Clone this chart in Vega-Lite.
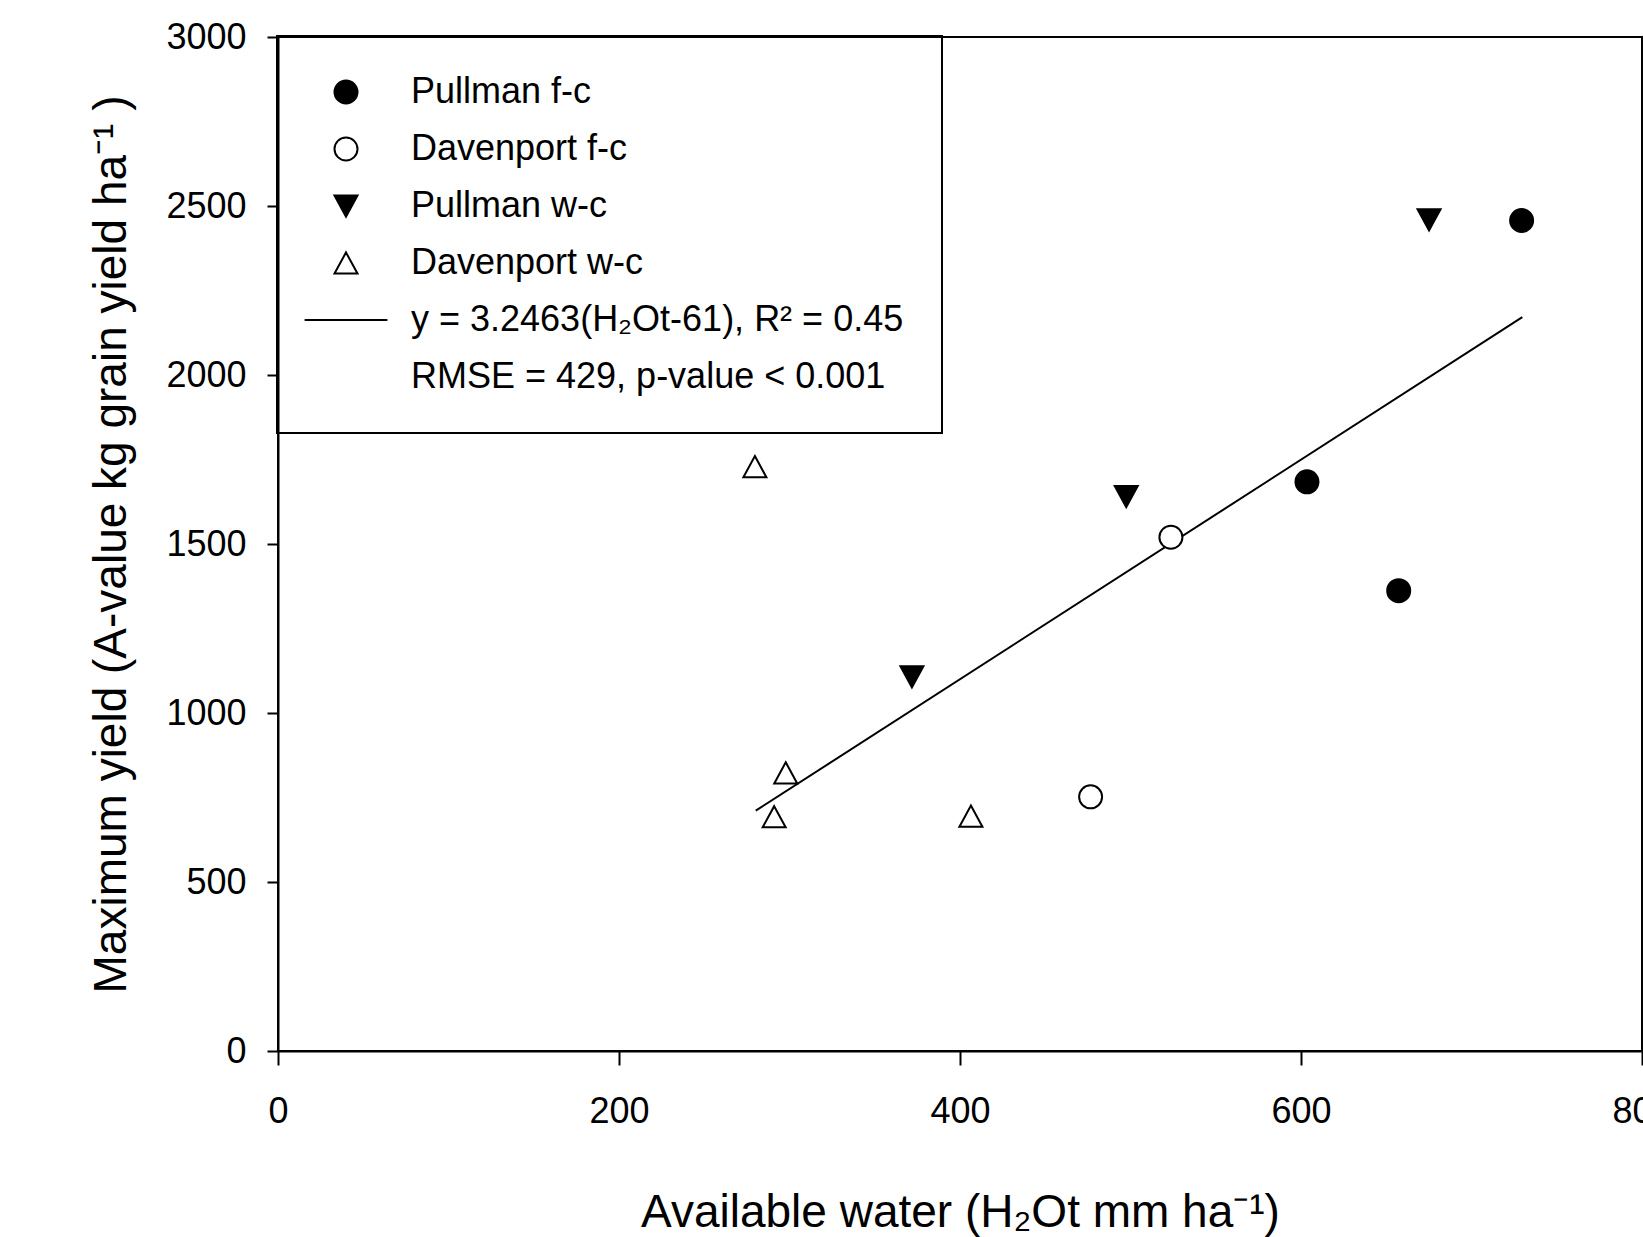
{
  "$schema": "https://vega.github.io/schema/vega-lite/v6.json",
  "width": 1364,
  "height": 1014,
  "autosize": {"type": "none"},
  "padding": {"left": 278, "top": 37, "right": 1, "bottom": 186},
  "background": "white",
  "config": {
    "view": {"stroke": "black", "strokeWidth": 2},
    "font": "Liberation Sans",
    "axis": {
      "domainColor": "black", "domainWidth": 2,
      "tickColor": "black", "tickWidth": 2,
      "labelColor": "black", "titleColor": "black",
      "labelFont": "Liberation Sans", "labelFontSize": 36,
      "titleFont": "Liberation Sans", "titleFontSize": 46, "titleFontWeight": "normal",
      "grid": false, "labelFlush": false, "labelOverlap": false
    },
    "legend": {
      "strokeColor": "black", "strokeWidth": 2,
      "symbolSize": 529, "symbolStrokeWidth": 2, "symbolOpacity": 1,
      "labelFont": "Liberation Sans", "labelFontSize": 36, "labelColor": "black", "labelLimit": 1000
    }
  },
  "datasets": {
    "points": [
      {"series": "Pullman f-c", "water": 603.5, "yield": 1684},
      {"series": "Pullman f-c", "water": 657.3, "yield": 1362},
      {"series": "Pullman f-c", "water": 729.4, "yield": 2457},
      {"series": "Davenport f-c", "water": 476.6, "yield": 752},
      {"series": "Davenport f-c", "water": 523.7, "yield": 1520},
      {"series": "Pullman w-c", "water": 371.8, "yield": 1107},
      {"series": "Pullman w-c", "water": 497.5, "yield": 1640},
      {"series": "Pullman w-c", "water": 675.1, "yield": 2459},
      {"series": "Davenport w-c", "water": 279.7, "yield": 1729},
      {"series": "Davenport w-c", "water": 297.8, "yield": 823},
      {"series": "Davenport w-c", "water": 291.0, "yield": 693},
      {"series": "Davenport w-c", "water": 406.4, "yield": 695}
    ],
    "fit": [
      {"water": 280.2, "yield": 711},
      {"water": 729.8, "yield": 2171}
    ]
  },
  "layer": [
    {
      "data": {"name": "fit"},
      "mark": {"type": "line", "color": "black", "strokeWidth": 2},
      "encoding": {
        "x": {"field": "water", "type": "quantitative",
              "scale": {"domain": [0, 800], "nice": false, "zero": false},
              "axis": {"values": [0, 200, 400, 600, 800], "format": "d", "tickSize": 14, "labelPadding": 29, "titlePadding": 61,
                       "title": "Available water (H₂Ot mm ha⁻¹)"}},
        "y": {"field": "yield", "type": "quantitative",
              "scale": {"domain": [0, 3000], "nice": false},
              "axis": {"values": [0, 500, 1000, 1500, 2000, 2500, 3000], "format": "d", "tickSize": 11, "labelPadding": 21, "titlePadding": 30,
                       "title": "Maximum yield (A-value kg grain yield ha⁻¹ )"}}
      }
    },
    {
      "data": {"name": "points"},
      "mark": {"type": "point", "opacity": 1, "size": 529, "strokeWidth": 2},
      "encoding": {
        "x": {"field": "water", "type": "quantitative"},
        "y": {"field": "yield", "type": "quantitative"},
        "shape": {"field": "series", "type": "nominal",
          "scale": {"domain": ["Pullman f-c", "Davenport f-c", "Pullman w-c", "Davenport w-c", "y = 3.2463(H₂Ot-61), R² = 0.45", "RMSE = 429, p-value < 0.001"],
                    "range": ["circle", "circle", "M-1,-0.92L1,-0.92L0,0.92Z", "M0,-0.92L1,0.92L-1,0.92Z", "M-3.6,0H3.6", "circle"]},
          "legend": {"title": null, "orient": "none", "legendX": -1, "legendY": -1, "columns": 1, "padding": 38,
                     "symbolOffset": 13, "labelOffset": 47, "rowPadding": 21, "strokeColor": "black", "symbolSize": 529}},
        "fill": {"field": "series", "type": "nominal",
          "scale": {"domain": ["Pullman f-c", "Davenport f-c", "Pullman w-c", "Davenport w-c", "y = 3.2463(H₂Ot-61), R² = 0.45", "RMSE = 429, p-value < 0.001"],
                    "range": ["black", "white", "black", "white", "transparent", "transparent"]},
          "legend": {"title": null, "orient": "none", "legendX": -1, "legendY": -1, "columns": 1, "padding": 38,
                     "symbolOffset": 13, "labelOffset": 47, "rowPadding": 21, "strokeColor": "black", "symbolSize": 529}},
        "stroke": {"field": "series", "type": "nominal",
          "scale": {"domain": ["Pullman f-c", "Davenport f-c", "Pullman w-c", "Davenport w-c", "y = 3.2463(H₂Ot-61), R² = 0.45", "RMSE = 429, p-value < 0.001"],
                    "range": ["black", "black", "black", "black", "black", "transparent"]},
          "legend": {"title": null, "orient": "none", "legendX": -1, "legendY": -1, "columns": 1, "padding": 38,
                     "symbolOffset": 13, "labelOffset": 47, "rowPadding": 21, "strokeColor": "black", "symbolSize": 529}}
      }
    }
  ]
}
